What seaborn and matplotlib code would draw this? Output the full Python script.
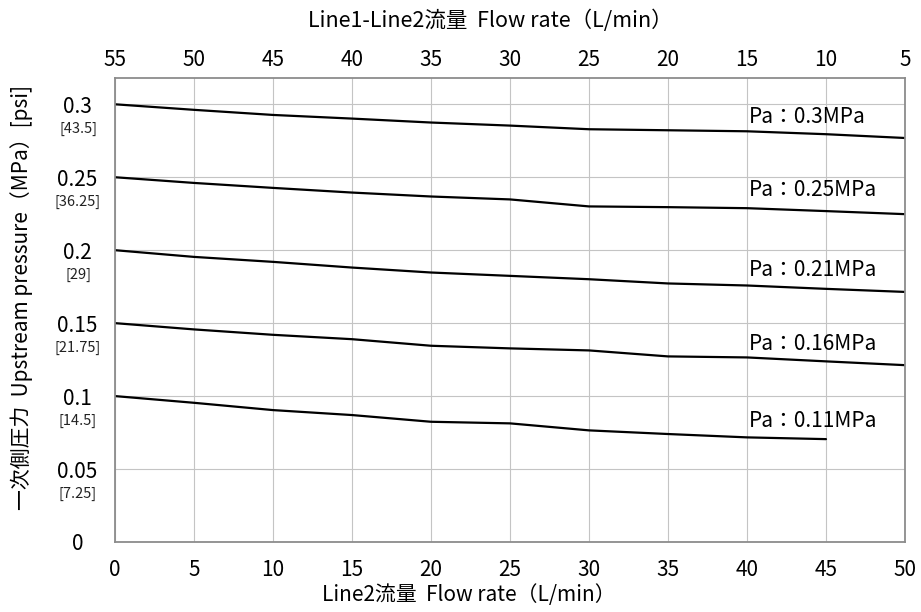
import numpy as np
import pandas as pd
import matplotlib
matplotlib.use("Agg")
import matplotlib.pyplot as plt
import matplotlib.transforms as mtransforms
import seaborn as sns

# flow rate on Line2 (bottom axis) and Line1-Line2 (top axis)
flow = [0, 5, 10, 15, 20, 25, 30, 35, 40, 45, 50]
top_ticks = [55, 50, 45, 40, 35, 30, 25, 20, 15, 10, 5]

# upstream pressure curves (MPa), one per supply pressure Pa
p_030 = [0.300, 0.2962, 0.2927, 0.2902, 0.2875, 0.2854, 0.2829, 0.2822, 0.2815, 0.2795, 0.2769]
p_025 = [0.250, 0.2461, 0.2427, 0.2395, 0.2368, 0.2348, 0.2300, 0.2295, 0.2288, 0.2268, 0.2247]
p_021 = [0.200, 0.1954, 0.1920, 0.1881, 0.1847, 0.1824, 0.1801, 0.1772, 0.1758, 0.1735, 0.1714]
p_016 = [0.150, 0.1457, 0.1420, 0.1390, 0.1345, 0.1327, 0.1313, 0.1272, 0.1265, 0.1238, 0.1212]
p_011 = [0.100, 0.0954, 0.0904, 0.0870, 0.0824, 0.0813, 0.0765, 0.0740, 0.0717, 0.0705, np.nan]

series_names = ["Pa：0.3MPa", "Pa：0.25MPa", "Pa：0.21MPa", "Pa：0.16MPa", "Pa：0.11MPa"]
series_vals = [p_030, p_025, p_021, p_016, p_011]
label_y = [0.2911, 0.2411, 0.1863, 0.1356, 0.0829]

y_ticks = [0, 0.05, 0.1, 0.15, 0.2, 0.25, 0.3]
y_labels = ["0", "0.05", "0.1", "0.15", "0.2", "0.25", "0.3"]
psi_labels = ["", "[7.25]", "[14.5]", "[21.75]", "[29]", "[36.25]", "[43.5]"]

df = pd.concat([pd.DataFrame({"flow": flow, "pressure": v, "series": n})
                for n, v in zip(series_names, series_vals)]).dropna()

sns.set_theme(style="whitegrid")
plt.rcParams['font.family'] = ['Noto Sans CJK JP', 'DejaVu Sans']
plt.rcParams['text.color'] = 'black'
plt.rcParams['xtick.color'] = 'black'
plt.rcParams['ytick.color'] = 'black'

fig = plt.figure(figsize=(9.21, 6.12), dpi=100)
ax = fig.add_axes([0.1249, 0.1144, 0.8577, 0.7581])
sns.lineplot(data=df, x="flow", y="pressure", units="series", estimator=None,
             color="black", linewidth=1.6, ax=ax, legend=False)

ax.set_xlim(0, 50)
ax.set_ylim(0, 0.318)
ax.set_xticks(flow)
ax.set_xticklabels([str(f) for f in flow], fontsize=15)
ax.set_yticks(y_ticks)
ax.set_yticklabels(y_labels, fontsize=15)
for lab in ax.get_yticklabels():
    lab.set_ha("center")
ax.tick_params(axis="y", length=0, pad=27)
ax.tick_params(axis="x", length=0, pad=12)
ax.set_xlabel("")
ax.set_ylabel("")
ax.grid(True, color="#c4c4c4", linewidth=0.8)
for s in ax.spines.values():
    s.set_visible(True)
    s.set_color("#8c8c8c")
    s.set_linewidth(1.3)

# psi sub-labels under each MPa tick
psi_tr = mtransforms.offset_copy(ax.get_yaxis_transform(), fig=fig, x=-37, y=-25, units="dots")
for t, p in zip(y_ticks, psi_labels):
    ax.text(0, t, p, transform=psi_tr, ha="center", va="center", fontsize=10.5, color="#222222")

# curve labels
for n, ly in zip(series_names, label_y):
    ax.text(40.1, ly, n, ha="left", va="center", fontsize=15, color="black")

# top axis: Line1-Line2 flow rate
ax2 = ax.twiny()
ax2.set_xlim(ax.get_xlim())
ax2.set_xticks(flow)
ax2.set_xticklabels([str(t) for t in top_ticks], fontsize=15)
ax2.tick_params(axis="x", length=0, pad=5)
ax2.grid(False)
for s in ax2.spines.values():
    s.set_visible(False)

fig.text(490 / 921, 1 - 21 / 612, "Line1-Line2流量  Flow rate（L/min）", ha="center", va="center", fontsize=15.5)
fig.text(469 / 921, 1 - 595 / 612, "Line2流量  Flow rate（L/min）", ha="center", va="center", fontsize=15)
fig.text(22 / 921, 1 - 297 / 612, "一次側圧力  Upstream pressure（MPa）[psi]", ha="center", va="center",
         rotation=90, fontsize=15)

fig.savefig("out.png", dpi=100, facecolor="white")
